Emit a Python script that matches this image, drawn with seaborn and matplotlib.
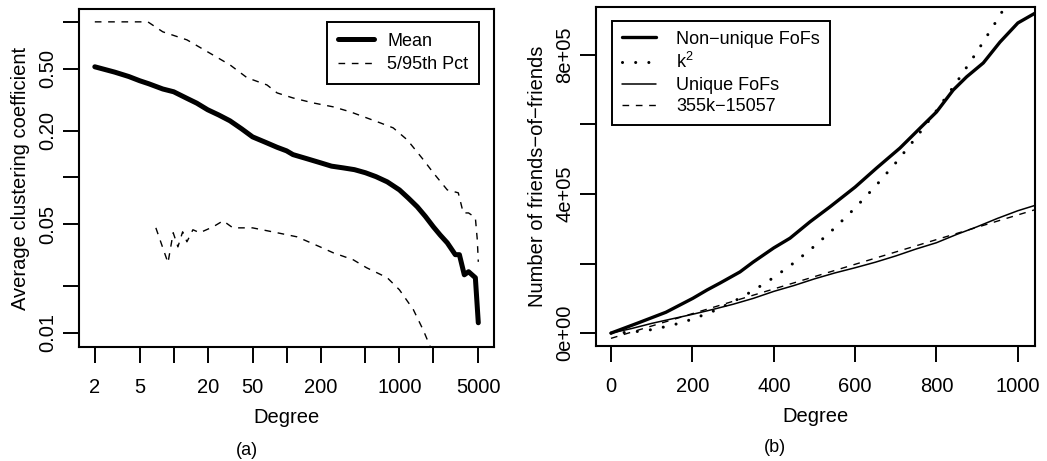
import numpy as np
import matplotlib
matplotlib.use("Agg")
import matplotlib.pyplot as plt
import seaborn as sns

# (a) clustering coefficient vs degree
mean_deg = [2, 3, 4, 5, 6, 8, 10, 13.1, 16, 20, 25, 31.5, 40, 50, 65, 82.5,
            100, 114, 150, 200, 250, 318, 400, 500, 620, 780, 1000, 1200,
            1440, 1700, 2000, 2300, 2655, 3127, 3400, 3758, 4100, 4710, 5000]
mean_cc = [0.514, 0.475, 0.445, 0.418, 0.40, 0.37, 0.355, 0.322, 0.30, 0.272,
           0.252, 0.231, 0.205, 0.182, 0.168, 0.156, 0.148, 0.140, 0.132,
           0.124, 0.118, 0.115, 0.112, 0.107, 0.101, 0.0935, 0.083, 0.0735,
           0.0646, 0.056, 0.048, 0.0425, 0.0379, 0.0318, 0.0318, 0.0236,
           0.0247, 0.0226, 0.0116]

hi_deg = [2, 5.9, 8, 13.1, 20, 31.5, 44.7, 67, 82.5, 114, 172, 259, 366, 676,
          881, 1175, 1627, 1995, 2655, 3324, 3680, 4100, 4710, 4900, 5000]
hi_cc = [1.0, 1.0, 0.863, 0.766, 0.641, 0.529, 0.437, 0.393, 0.349, 0.324,
         0.301, 0.284, 0.264, 0.224, 0.208, 0.174, 0.130, 0.107, 0.083, 0.0795,
         0.059, 0.059, 0.055, 0.0396, 0.0286]

lo_deg = [6.95, 8.9, 9.9, 10.9, 12.0, 13.1, 14.8, 17, 22.3, 27.4, 33.5, 50,
          82.5, 124, 198, 259, 389, 512, 780, 1000, 1328, 1627, 1880, 2100]
lo_cc = [0.0473, 0.0282, 0.044, 0.0357, 0.0446, 0.0385, 0.046, 0.044, 0.048,
         0.0525, 0.0473, 0.0473, 0.044, 0.0414, 0.0357, 0.0327, 0.0295, 0.0262,
         0.0226, 0.0189, 0.0141, 0.0104, 0.0081, 0.0068]

# (b) friends-of-friends vs degree
nonu_deg = [0, 66, 135, 201, 236, 268, 317, 349, 400, 440, 489, 538, 600, 653,
            710, 760, 800, 841, 874, 915, 956, 1000, 1042]
nonu_fof = [0, 2.9e4, 6.0e4, 1.0e5, 1.24e5, 1.44e5, 1.76e5, 2.04e5, 2.45e5,
            2.73e5, 3.2e5, 3.63e5, 4.2e5, 4.75e5, 5.32e5, 5.9e5, 6.36e5,
            6.99e5, 7.37e5, 7.77e5, 8.37e5, 8.92e5, 9.2e5]

uniq_deg = [0, 50, 100, 150, 200, 250, 300, 350, 400, 450, 500, 550, 600, 650,
            700, 750, 800, 850, 900, 950, 1000, 1044]
uniq_fof = [0, 1.3e4, 2.8e4, 4.1e4, 5.4e4, 6.8e4, 8.3e4, 1.0e5, 1.2e5, 1.37e5,
            1.56e5, 1.73e5, 1.88e5, 2.04e5, 2.22e5, 2.42e5, 2.6e5, 2.84e5,
            3.06e5, 3.3e5, 3.52e5, 3.68e5]

sq_deg = [0, 50, 100, 150, 200, 250, 300, 350, 400, 450, 500, 550, 600, 650,
          700, 750, 800, 850, 900, 950, 1000]
sq_fof = [0, 2500, 10000, 22500, 40000, 62500, 90000, 122500, 160000, 202500,
          250000, 302500, 360000, 422500, 490000, 562500, 640000, 722500,
          810000, 902500, 1000000]

fit_deg = [0, 1044]
fit_fof = [-15057, 355563]

sns.set_theme(style="ticks", rc={"axes.linewidth": 1.5})
plt.rcParams["font.family"] = ["Liberation Sans", "DejaVu Sans"]
plt.rcParams["mathtext.default"] = "regular"
plt.rcParams["text.color"] = "black"
plt.rcParams["axes.labelcolor"] = "black"

fig = plt.figure(figsize=(10.47, 4.61), dpi=100)
ax1 = fig.add_axes([0.0755, 0.2473, 0.3964, 0.7332])
ax2 = fig.add_axes([0.5692, 0.2495, 0.4193, 0.7354])

fs = 14.5
lfs = 13
dash = (0, (4.8, 4.8))

sns.lineplot(x=mean_deg, y=mean_cc, ax=ax1, color="black", linewidth=3.6,
             solid_capstyle="round", solid_joinstyle="round", label="Mean")
sns.lineplot(x=hi_deg, y=hi_cc, ax=ax1, color="black", linewidth=1.0,
             linestyle=dash, label="5/95th Pct")
sns.lineplot(x=lo_deg, y=lo_cc, ax=ax1, color="black", linewidth=1.0,
             linestyle=dash, sort=False)
ax1.set_xscale("log")
ax1.set_yscale("log")
ax1.set_xlim(1.45, 6900)
ax1.set_ylim(0.0081, 1.21)
ax1.set_xticks([2, 5, 10, 20, 50, 100, 200, 500, 1000, 2000, 5000])
ax1.set_xticklabels(["2", "5", "", "20", "50", "", "200", "", "1000", "", "5000"])
ax1.set_yticks([0.01, 0.02, 0.05, 0.1, 0.2, 0.5, 1.0])
ax1.set_yticklabels(["0.01", "", "0.05", "", "0.20", "0.50", ""])
ax1.minorticks_off()
ax1.set_xlabel("Degree", fontsize=fs, labelpad=8)
ax1.set_ylabel("Average clustering coefficient", fontsize=fs, labelpad=6)
h = ax1.get_lines()[:2]
ax1.legend(h, ["Mean", "5/95th Pct"], loc="upper right",
           bbox_to_anchor=(0.964, 0.962), borderaxespad=0, fontsize=lfs,
           fancybox=False, framealpha=1, edgecolor="black",
           handlelength=2.0, handletextpad=0.75, labelspacing=0.35,
           borderpad=0.6).get_frame().set_linewidth(1.4)

sns.lineplot(x=nonu_deg, y=nonu_fof, ax=ax2, color="black", linewidth=2.4,
             solid_capstyle="round", label="Non\u2212unique FoFs")
sns.lineplot(x=sq_deg, y=sq_fof, ax=ax2, color="black", linewidth=2.2,
             linestyle=(0, (0.01, 4.3)), dash_capstyle="round",
             label="k$^{2}$")
sns.lineplot(x=uniq_deg, y=uniq_fof, ax=ax2, color="black", linewidth=1.1,
             label="Unique FoFs")
sns.lineplot(x=fit_deg, y=fit_fof, ax=ax2, color="black", linewidth=1.0,
             linestyle=dash, label="355k\u221215057")
ax2.set_xlim(-37, 1042)
ax2.set_ylim(-3.7e4, 9.38e5)
ax2.set_xticks([0, 200, 400, 600, 800, 1000])
ax2.set_yticks([0, 2e5, 4e5, 6e5, 8e5])
ax2.set_yticklabels(["0e+00", "", "4e+05", "", "8e+05"])
ax2.set_xlabel("Degree", fontsize=fs, labelpad=8)
ax2.set_ylabel("Number of friends\u2212of\u2212friends", fontsize=fs, labelpad=6)
h = ax2.get_lines()[:4]
ax2.legend(h, ["Non\u2212unique FoFs", "k$^{2}$", "Unique FoFs", "355k\u221215057"],
           loc="upper left", bbox_to_anchor=(0.036, 0.959), borderaxespad=0,
           fontsize=lfs, fancybox=False, framealpha=1, edgecolor="black",
           handlelength=1.9, handletextpad=1.1, labelspacing=0.25,
           borderpad=0.55).get_frame().set_linewidth(1.4)

for ax in (ax1, ax2):
    for s in ax.spines.values():
        s.set_linewidth(1.5)
        s.set_color("black")
    ax.tick_params(axis="both", length=11.5, width=1.4, color="black",
                   labelsize=fs, labelcolor="black")
    ax.tick_params(axis="x", pad=11)
    ax.tick_params(axis="y", pad=4)
    for t in ax.get_yticklabels():
        t.set_rotation(90)
        t.set_va("center")

fig.text(247 / 1047, 1 - 450 / 461, "(a)", ha="center", va="center", fontsize=13)
fig.text(775 / 1047, 1 - 447 / 461, "(b)", ha="center", va="center", fontsize=13)

fig.savefig("out.png", dpi=100)
